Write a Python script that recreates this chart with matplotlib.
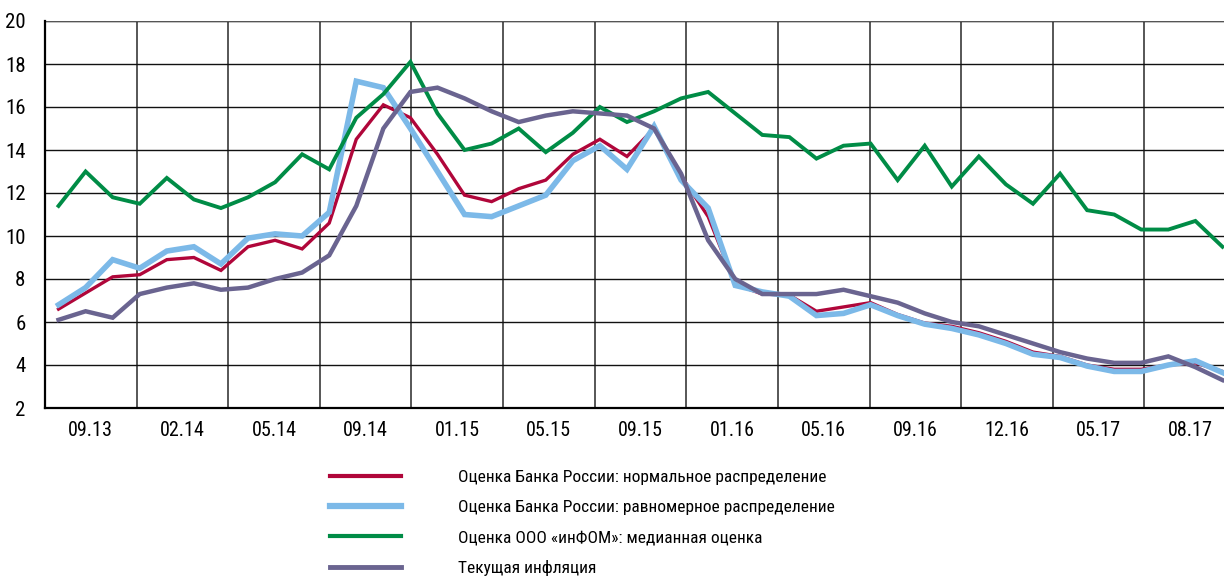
import matplotlib
matplotlib.use("Agg")
import matplotlib.pyplot as plt
from matplotlib.lines import Line2D
from matplotlib import font_manager
import numpy as np

# ---- data ----
tick_labels = ["09.13", "02.14", "05.14", "09.14", "01.15", "05.15", "09.15",
               "01.16", "05.16", "09.16", "12.16", "05.17", "08.17"]

normal_dist = [6.6, 7.35, 8.1, 8.2, 8.9, 9.0, 8.4, 9.5, 9.8, 9.4, 10.6,
               14.5, 16.1, 15.5, 13.8, 11.9, 11.6, 12.2, 12.6, 13.8, 14.5, 13.7,
               15.0, 12.8, 10.9, 7.75, 7.3, 7.25, 6.5, 6.7, 6.9, 6.35,
               5.95, 5.8, 5.5, 5.1, 4.6, 4.4, 4.0, 3.8, 3.8, 4.0, 4.1, 3.7]

uniform_dist = [6.8, 7.6, 8.9, 8.5, 9.3, 9.5, 8.7, 9.9, 10.1, 10.0, 11.1,
                17.2, 16.9, 15.0, 13.0, 11.0, 10.9, 11.4, 11.9, 13.5, 14.2, 13.1,
                15.1, 12.6, 11.3, 7.7, 7.4, 7.2, 6.3, 6.4, 6.8, 6.3,
                5.9, 5.7, 5.4, 5.0, 4.5, 4.35, 3.95, 3.7, 3.7, 4.0, 4.2, 3.65]

infom_median = [11.4, 13.0, 11.8, 11.5, 12.7, 11.7, 11.3, 11.8, 12.5, 13.8, 13.1,
                15.5, 16.6, 18.1, 15.7, 14.0, 14.3, 15.0, 13.9, 14.8, 16.0, 15.3,
                15.8, 16.4, 16.7, 15.7, 14.7, 14.6, 13.6, 14.2, 14.3, 12.6,
                14.2, 12.3, 13.7, 12.4, 11.5, 12.9, 11.2, 11.0, 10.3, 10.3, 10.7, 9.5]

current_infl = [6.1, 6.5, 6.2, 7.3, 7.6, 7.8, 7.5, 7.6, 8.0, 8.3, 9.1,
                11.4, 15.0, 16.7, 16.9, 16.4, 15.8, 15.3, 15.6, 15.8, 15.7, 15.6,
                15.0, 12.9, 9.8, 8.0, 7.3, 7.3, 7.3, 7.5, 7.2, 6.9,
                6.4, 6.0, 5.8, 5.4, 5.0, 4.6, 4.3, 4.1, 4.1, 4.4, 3.9, 3.3]

labels = ["Оценка Банка России: нормальное распределение",
          "Оценка Банка России: равномерное распределение",
          "Оценка ООО «инФОМ»: медианная оценка",
          "Текущая инфляция"]
colors = ["#B0063A", "#7CB9E8", "#008C46", "#6A6490"]
widths = [2.4, 4.0, 2.8, 3.2]

installed = {f.name for f in font_manager.fontManager.ttflist}
cands = ["Liberation Sans Narrow", "DejaVu Sans Condensed", "Roboto Condensed",
         "Open Sans Condensed", "DejaVu Sans"]
FONT = [c for c in cands if c in installed] or ["DejaVu Sans"]
plt.rcParams["font.family"] = FONT
plt.rcParams["font.stretch"] = "condensed"

W, H = 1224, 577
fig = plt.figure(figsize=(W / 100, H / 100), dpi=100)
n = len(infom_median)
x = np.arange(n)
ax_left, ax_right_px = 45, 1236
ax_top, ax_bottom = 21, 408
ax = fig.add_axes([ax_left / W, (H - ax_bottom) / H,
                   (ax_right_px - ax_left) / W, (ax_bottom - ax_top) / H])

series = [normal_dist, uniform_dist, infom_median, current_infl]
zorders = [3, 4, 5, 6]
for s, c, lw, z in zip(series, colors, widths, zorders):
    ax.plot(x, s, color=c, lw=lw, zorder=z, solid_joinstyle="miter")

ax.set_xlim(-0.5, n - 0.5)
ax.set_ylim(2, 20)
ax.set_yticks(np.arange(2, 21, 2))
ax.set_yticklabels([str(v) for v in range(2, 21, 2)], fontsize=15)

step = n / 13.0
grid_x = -0.5 + step * np.arange(14)
for gx in grid_x[1:]:
    ax.axvline(gx, color="#3a3a3a", lw=1.2, zorder=1)
for gy in range(4, 21, 2):
    ax.axhline(gy, color="#111111", lw=1.0, zorder=1)
ax.axhline(20, color="#555555", lw=1.6, zorder=1)

ax.set_xticks(-0.5 + step * (np.arange(13) + 0.5))
ax.set_xticklabels(tick_labels, fontsize=14.5)
ax.tick_params(axis="both", length=0)
ax.tick_params(axis="y", pad=14)
ax.tick_params(axis="x", pad=9)

for sp in ["top", "right"]:
    ax.spines[sp].set_visible(False)
ax.spines["left"].set_linewidth(1.6)
ax.spines["bottom"].set_linewidth(1.6)

handles = [Line2D([0], [0], color=c, lw=lw) for c, lw in zip(colors, [3, 4.5, 3, 3.5])]
leg = fig.legend(handles, labels, loc="upper left",
                 bbox_to_anchor=(330 / W, 1 - 470 / H),
                 frameon=False, fontsize=12.5, handlelength=4.1,
                 handletextpad=3.3, labelspacing=0.86, borderpad=0,
                 borderaxespad=0)

fig.savefig("out.png", dpi=100)
